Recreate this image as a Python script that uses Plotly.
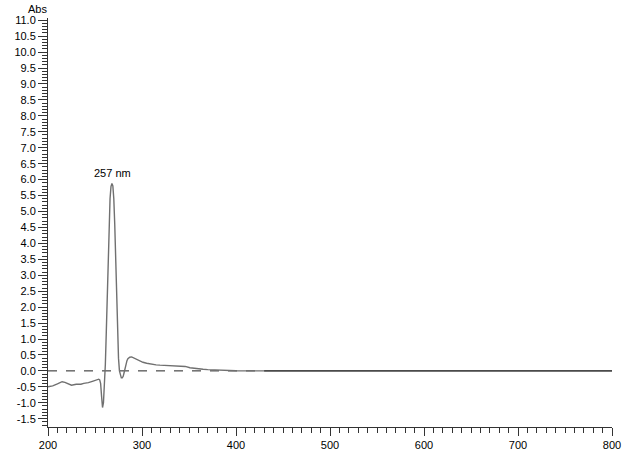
import plotly.graph_objects as go

wavelength = [200, 205, 210, 215, 218, 222, 225, 230, 235, 238, 243, 248, 251, 254, 255,
              256, 257, 258, 259, 260, 261, 262, 263, 264, 265, 266, 267, 268, 269, 270, 271, 272, 273, 274,
              275, 276, 277, 278, 279, 280, 281, 282, 283, 284, 285, 287, 289, 291, 294, 297, 301, 305, 310,
              315, 319, 325, 330, 337, 342, 346, 351, 355, 360, 365, 370, 382, 390, 400, 420, 430, 500, 600, 700, 800]
absorbance = [-0.50, -0.47, -0.41, -0.34, -0.36, -0.40, -0.45, -0.42, -0.42, -0.39, -0.37, -0.32, -0.29, -0.26,
              -0.28,
              -0.40, -0.80, -1.15, -1.00, -0.50, 0.20, 1.20, 2.50, 3.70, 4.70, 5.40, 5.78, 5.88, 5.80, 5.40,
              4.60, 3.50, 2.30, 1.20, 0.40, 0.00, -0.15, -0.22, -0.22, -0.17, -0.05, 0.10, 0.22, 0.32, 0.38,
              0.43, 0.44, 0.41, 0.36, 0.31, 0.27, 0.24, 0.21, 0.19, 0.18, 0.17, 0.16, 0.16, 0.16, 0.14, 0.10,
              0.08, 0.06, 0.05, 0.04, 0.02, 0.01, 0.005, 0.0, 0.0, 0.0, 0.0, 0.0, 0.0]

x_ticks = [200, 300, 400, 500, 600, 700, 800]
y_ticks = [-1.5 + 0.5 * i for i in range(26)]
y_tick_text = [f"{v:.1f}" for v in y_ticks]
peak_label = "257 nm"
peak_x, peak_y = 268.6, 5.88
baseline_end = 430

FONT = "Liberation Sans, Arial, sans-serif"
AX = "#333333"

tail_x = [w for w in wavelength if w >= baseline_end]
tail_y = [a for w, a in zip(wavelength, absorbance) if w >= baseline_end]

fig = go.Figure()
fig.add_trace(go.Scatter(x=[200, baseline_end], y=[0, 0], mode="lines",
                         line=dict(color="#222222", width=1, dash="dash"), hoverinfo="skip", showlegend=False))
fig.add_trace(go.Scatter(x=wavelength, y=absorbance, mode="lines",
                         line=dict(color="#707070", width=1.4), hoverinfo="skip", showlegend=False))
fig.add_trace(go.Scatter(x=tail_x, y=tail_y, mode="lines",
                         line=dict(color="#333333", width=1.2), hoverinfo="skip", showlegend=False))

fig.add_annotation(x=peak_x, y=peak_y, text=peak_label, showarrow=False, yanchor="bottom", yshift=2,
                   font=dict(family=FONT, size=11, color="black"))
fig.add_annotation(xref="paper", yref="paper", x=0, y=1, text="Abs", showarrow=False,
                   xanchor="center", yanchor="middle", xshift=-11, yshift=9,
                   font=dict(family=FONT, size=11, color="black"))

fig.update_layout(
    width=642, height=466,
    margin=dict(l=48, r=30, t=18, b=39, autoexpand=False),
    paper_bgcolor="white", plot_bgcolor="white",
    font=dict(family=FONT, size=11, color="black"),
    hovermode=False,
    xaxis=dict(range=[200, 800], tickvals=x_ticks, ticks="outside", ticklen=8, tickcolor=AX,
               showline=True, linecolor=AX, linewidth=1, showgrid=False, zeroline=False, automargin=False,
               minor=dict(tick0=200, dtick=10, ticks="outside", ticklen=5, tickcolor=AX, showgrid=False),
               tickfont=dict(family=FONT, size=11, color="black")),
    yaxis=dict(range=[-1.76, 11.07], tickvals=y_ticks, ticktext=y_tick_text, ticks="outside", ticklen=9,
               tickcolor=AX, showline=True, linecolor=AX, linewidth=1, showgrid=False, zeroline=False,
               automargin=False,
               minor=dict(tick0=0, dtick=0.1, ticks="outside", ticklen=5, tickcolor=AX, showgrid=False),
               tickfont=dict(family=FONT, size=11, color="black")),
)

fig.write_html("out.html", config={"displayModeBar": False, "staticPlot": True},
               post_script="document.body.style.margin='0';document.body.style.overflow='hidden';")
